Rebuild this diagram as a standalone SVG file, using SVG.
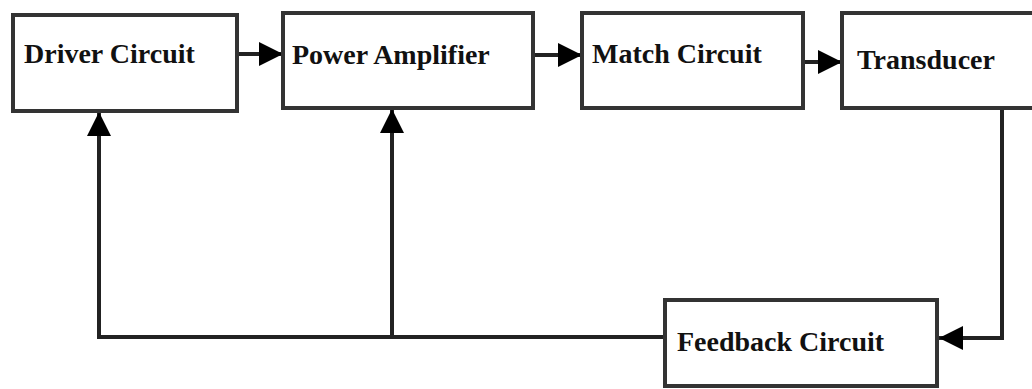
<svg xmlns="http://www.w3.org/2000/svg" width="1032" height="389" viewBox="0 0 1032 389">
  <style>
    .box { fill: #ffffff; stroke: #333333; stroke-width: 4; }
    .lbl { font-family: "Liberation Serif", "Times New Roman", serif; font-weight: bold; font-size: 28px; fill: #111111; }
    .conn { fill: none; stroke: #222222; stroke-width: 4; }
  </style>
  <defs>
    <marker id="arr" markerUnits="userSpaceOnUse" markerWidth="26" markerHeight="28" refX="24" refY="14" orient="auto">
      <path d="M0,2 L24,14 L0,26 z" fill="#000000"/>
    </marker>
  </defs>
  <rect width="1032" height="389" fill="#ffffff"/>
  <g id="connectors">
    <line class="conn" x1="237" y1="54" x2="283" y2="54" marker-end="url(#arr)"/>
    <line class="conn" x1="533" y1="55" x2="582" y2="55" marker-end="url(#arr)"/>
    <line class="conn" x1="803" y1="62" x2="842" y2="62" marker-end="url(#arr)"/>
    <path class="conn" d="M1002,108 V338 H939" marker-end="url(#arr)"/>
    <path class="conn" d="M665,337 H99"/>
    <line class="conn" x1="99" y1="339" x2="99" y2="112" marker-end="url(#arr)"/>
    <line class="conn" x1="392" y1="337" x2="392" y2="109" marker-end="url(#arr)"/>
  </g>
  <g id="driver">
    <rect class="box" x="13" y="15" width="224" height="96"/>
    <text class="lbl" x="24" y="63">Driver Circuit</text>
  </g>
  <g id="power">
    <rect class="box" x="283" y="13" width="250" height="95"/>
    <text class="lbl" x="292" y="64">Power Amplifier</text>
  </g>
  <g id="match">
    <rect class="box" x="582" y="13" width="221" height="95"/>
    <text class="lbl" x="592" y="63">Match Circuit</text>
  </g>
  <g id="transducer">
    <rect class="box" x="842" y="13" width="200" height="95"/>
    <text class="lbl" x="857" y="69">Transducer</text>
  </g>
  <g id="feedback">
    <rect class="box" x="665" y="300" width="272" height="86"/>
    <text class="lbl" x="677" y="351">Feedback Circuit</text>
  </g>
</svg>
